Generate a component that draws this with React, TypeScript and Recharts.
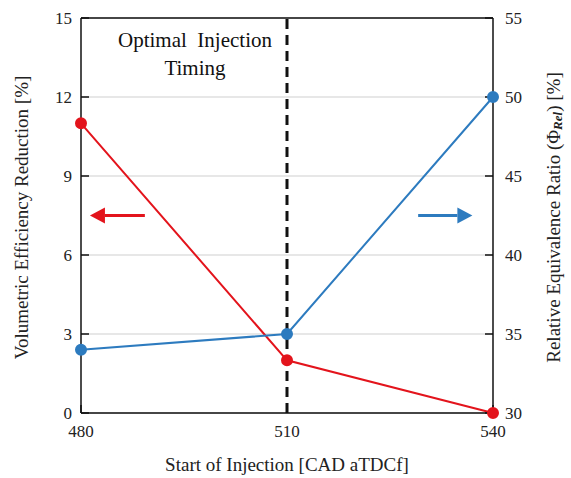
import {
  LineChart,
  Line,
  XAxis,
  YAxis,
  CartesianGrid,
  ReferenceLine,
  ReferenceDot,
} from 'recharts'

const injectionStart = [480, 510, 540]
const volEffReduction = [11, 2, 0]
const relEquivRatio = [34, 35, 50]
const xTicks = [480, 510, 540]
const leftTicks = [0, 3, 6, 9, 12, 15]
const rightTicks = [30, 35, 40, 45, 50, 55]

const RED = '#e3141c'
const BLUE = '#2d7bbf'
const FONT = '"Liberation Serif", "DejaVu Serif", serif'

const data = injectionStart.map((x, i) => ({
  x,
  vol: volEffReduction[i],
  phi: relEquivRatio[i],
}))

// tick label drawn in serif, anchored like recharts does
const SerifTick = (props: any) => {
  const { x, y, payload, textAnchor, orientation } = props
  const dy = orientation === 'bottom' ? 12 : 6
  return (
    <text
      x={x}
      y={y}
      dy={dy}
      textAnchor={textAnchor}
      fontFamily={FONT}
      fontSize={17}
      fill="#222"
    >
      {payload.value}
    </text>
  )
}

const arrowShape = (color: string) => (props: any) => {
  const { x1, y1, x2, y2 } = props
  const dir = x2 > x1 ? 1 : -1
  const head = 15
  const baseX = x2 - dir * head
  return (
    <g>
      <line x1={x1} y1={y1} x2={baseX} y2={y2} stroke={color} strokeWidth={3} />
      <polygon
        points={`${x2},${y2} ${baseX},${y2 - 8} ${baseX},${y2 + 8}`}
        fill={color}
      />
    </g>
  )
}

const annotation = (props: any) => {
  const { cx, cy } = props
  return (
    <text x={cx} y={cy} textAnchor="middle" fontFamily={FONT} fontSize={21} fill="#111">
      <tspan x={cx} dy={0}>Optimal&nbsp; Injection</tspan>
      <tspan x={cx} dy={28}>Timing</tspan>
    </text>
  )
}

const leftLabel = (props: any) => {
  const { viewBox } = props
  const cx = viewBox.x + 21
  const cy = viewBox.y + viewBox.height / 2 + 2
  return (
    <text
      x={cx}
      y={cy}
      transform={`rotate(-90 ${cx} ${cy})`}
      textAnchor="middle"
      dominantBaseline="central"
      fontFamily={FONT}
      fontSize={19}
      fill="#222"
    >
      Volumetric Efficiency Reduction [%]
    </text>
  )
}

const rightLabel = (props: any) => {
  const { viewBox } = props
  const cx = viewBox.x + 60
  const cy = viewBox.y + viewBox.height / 2 + 2
  return (
    <text
      x={cx}
      y={cy}
      transform={`rotate(-90 ${cx} ${cy})`}
      textAnchor="middle"
      dominantBaseline="central"
      fontFamily={FONT}
      fontSize={19}
      fill="#222"
    >
      Relative Equivalence Ratio (Φ
      <tspan fontSize={13} fontStyle="italic" fontWeight="bold" dy={4}>Rel</tspan>
      <tspan dy={-4}>) [%]</tspan>
    </text>
  )
}

const bottomLabel = (props: any) => {
  const { viewBox } = props
  return (
    <text
      x={viewBox.x + viewBox.width / 2}
      y={471}
      textAnchor="middle"
      fontFamily={FONT}
      fontSize={19}
      fill="#222"
    >
      Start of Injection [CAD aTDCf]
    </text>
  )
}

export default function App() {
  return (
    <div style={{ position: 'absolute', left: 0, top: 0, background: '#fff' }}>
      <LineChart
        width={571}
        height={478}
        data={data}
        margin={{ top: 18, right: 0, bottom: 0, left: 0 }}
      >
        <CartesianGrid vertical={false} stroke="#cfcfcf" yAxisId="left" />
        <XAxis
          dataKey="x"
          type="number"
          domain={[480, 540]}
          ticks={xTicks}
          height={65}
          stroke="#111"
          strokeWidth={1.5}
          tickSize={-8}
          tickMargin={20}
          tick={<SerifTick />}
          label={{ content: bottomLabel }}
        />
        <YAxis
          yAxisId="left"
          domain={[0, 15]}
          ticks={leftTicks}
          width={81}
          stroke="#111"
          strokeWidth={1.5}
          tickSize={-8}
          tickMargin={17}
          tick={<SerifTick />}
          label={{ content: leftLabel }}
        />
        <YAxis
          yAxisId="right"
          orientation="right"
          domain={[30, 55]}
          ticks={rightTicks}
          width={78}
          stroke="#111"
          strokeWidth={1.5}
          tickSize={-8}
          tickMargin={20}
          tick={<SerifTick />}
          label={{ content: rightLabel }}
        />
        <ReferenceLine yAxisId="left" y={15} stroke="#111" strokeWidth={1.5} />
        <ReferenceLine
          yAxisId="left"
          x={510}
          stroke="#111"
          strokeWidth={3}
          strokeDasharray="10 6"
        />
        <ReferenceLine
          yAxisId="left"
          segment={[
            { x: 489.3, y: 7.5 },
            { x: 481.3, y: 7.5 },
          ]}
          shape={arrowShape(RED)}
        />
        <ReferenceLine
          yAxisId="left"
          segment={[
            { x: 529.1, y: 7.5 },
            { x: 537.0, y: 7.5 },
          ]}
          shape={arrowShape(BLUE)}
        />
        <ReferenceDot yAxisId="left" x={496.6} y={13.9} r={0} shape={annotation} />
        <Line
          yAxisId="left"
          dataKey="vol"
          stroke={RED}
          strokeWidth={2}
          dot={{ r: 5, fill: RED, stroke: RED }}
          isAnimationActive={false}
        />
        <Line
          yAxisId="right"
          dataKey="phi"
          stroke={BLUE}
          strokeWidth={2}
          dot={{ r: 5, fill: BLUE, stroke: BLUE }}
          isAnimationActive={false}
        />
      </LineChart>
    </div>
  )
}
